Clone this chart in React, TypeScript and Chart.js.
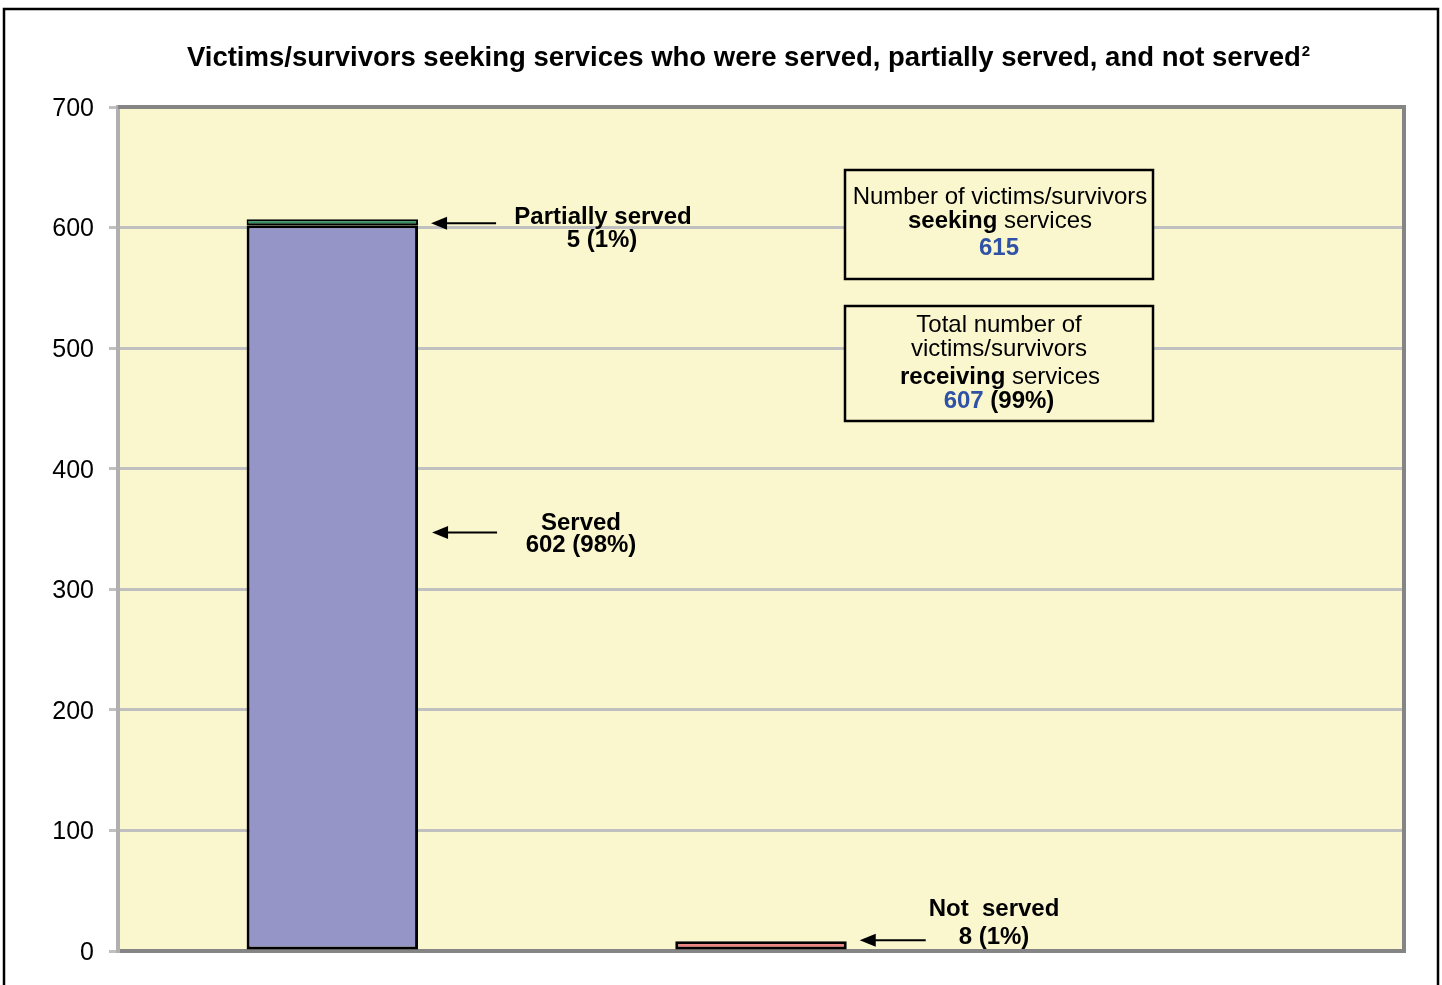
import React, { useEffect, useRef } from "react";
import { Chart, registerables } from "chart.js";

Chart.register(...registerables);

const categories = ["Served / Partially served", "Not served", ""];
const servedValues = [602, null, null];
const partialValues = [5, null, null];
const notServedValues = [null, 8, null];
const yTickStep = 100;
const yMax = 700;
const titleText = "Victims/survivors seeking services who were served, partially served, and not served";
const titleNote = "2";
const seekingTotal = 615;
const receivingTotal = 607;
const receivingPct = "(99%)";
const servedLabel = ["Served", "602 (98%)"];
const partialLabel = ["Partially served", "5 (1%)"];
const notServedLabel = ["Not  served", "8 (1%)"];

const FONT = 'Arial, "Liberation Sans", sans-serif';
const BG = "#FAF7CE";

type Seg = { t: string; bold?: boolean; color?: string };

function drawRich(ctx: CanvasRenderingContext2D, segs: Seg[], cx: number, cy: number, size: number) {
  let total = 0;
  const widths = segs.map((s) => {
    ctx.font = `${s.bold ? "bold " : ""}${size}px ${FONT}`;
    const w = ctx.measureText(s.t).width;
    total += w;
    return w;
  });
  let x = cx - total / 2;
  ctx.textBaseline = "middle";
  ctx.textAlign = "left";
  segs.forEach((s, i) => {
    ctx.font = `${s.bold ? "bold " : ""}${size}px ${FONT}`;
    ctx.fillStyle = s.color || "#000";
    ctx.fillText(s.t, x, cy);
    x += widths[i];
  });
}

function drawArrow(ctx: CanvasRenderingContext2D, x1: number, x2: number, y: number) {
  ctx.save();
  ctx.strokeStyle = "#000";
  ctx.fillStyle = "#000";
  ctx.lineWidth = 2;
  ctx.beginPath();
  ctx.moveTo(x1, y);
  ctx.lineTo(x2 + 10, y);
  ctx.stroke();
  ctx.beginPath();
  ctx.moveTo(x2, y);
  ctx.lineTo(x2 + 16, y - 6.5);
  ctx.lineTo(x2 + 16, y + 6.5);
  ctx.closePath();
  ctx.fill();
  ctx.restore();
}

const decorPlugin = {
  id: "decor",
  beforeDraw(chart: any) {
    const { ctx, chartArea: a } = chart;
    ctx.save();
    ctx.fillStyle = "#fff";
    ctx.fillRect(0, 0, chart.width, chart.height);
    // outer frame
    ctx.strokeStyle = "#000";
    ctx.lineWidth = 2.5;
    ctx.strokeRect(4, 9, 1434, 1000);
    // title
    ctx.font = `bold 27.5px ${FONT}`;
    ctx.fillStyle = "#000";
    ctx.textBaseline = "middle";
    ctx.textAlign = "left";
    const tw = ctx.measureText(titleText).width;
    ctx.font = `bold 15px ${FONT}`;
    const nw = ctx.measureText(titleNote).width;
    const tx = 748 - (tw + nw) / 2;
    ctx.font = `bold 27.5px ${FONT}`;
    ctx.fillText(titleText, tx, 58);
    ctx.font = `bold 15px ${FONT}`;
    ctx.fillText(titleNote, tx + tw + 1, 52);
    // plot background
    ctx.fillStyle = BG;
    ctx.fillRect(a.left, a.top, a.right - a.left, a.bottom - a.top);
    ctx.restore();
  },
  beforeDatasetsDraw(chart: any) {
    const { ctx, chartArea: a } = chart;
    ctx.save();
    ctx.strokeStyle = "#858585";
    ctx.lineWidth = 4;
    ctx.beginPath();
    ctx.moveTo(a.left, a.top);
    ctx.lineTo(a.right, a.top);
    ctx.lineTo(a.right, a.bottom);
    ctx.lineTo(a.left + 2, a.bottom);
    ctx.stroke();
    ctx.restore();
  },
  afterDatasetsDraw(chart: any) {
    const { ctx } = chart;
    const y = chart.scales.y;
    const meta0 = chart.getDatasetMeta(0).data[0];
    const meta2 = chart.getDatasetMeta(2).data[1];
    const r0 = meta0.x + meta0.width / 2;
    const r2 = meta2.x + meta2.width / 2;
    ctx.save();
    const yPartial = y.getPixelForValue(servedValues[0]! + partialValues[0]! / 2 - 1);
    drawArrow(ctx, r0 + 78, r0 + 13, yPartial);
    const yServed = y.getPixelForValue(347);
    drawArrow(ctx, r0 + 79, r0 + 14, yServed);
    const yNot = y.getPixelForValue(notServedValues[1]! + 1);
    drawArrow(ctx, r2 + 79, r2 + 13, yNot);

    const lsz = 24;
    drawRich(ctx, [{ t: partialLabel[0], bold: true }], 603, 217, lsz);
    drawRich(ctx, [{ t: partialLabel[1], bold: true }], 602, 240, lsz);
    drawRich(ctx, [{ t: servedLabel[0], bold: true }], 581, 523, lsz);
    drawRich(ctx, [{ t: servedLabel[1], bold: true }], 581, 545, lsz);
    drawRich(ctx, [{ t: notServedLabel[0], bold: true }], 994, 909, lsz);
    drawRich(ctx, [{ t: notServedLabel[1], bold: true }], 994, 937, lsz);

    ctx.lineWidth = 2.5;
    ctx.strokeStyle = "#000";
    ctx.fillStyle = BG;
    ctx.fillRect(845, 170, 308, 109);
    ctx.strokeRect(845, 170, 308, 109);
    ctx.fillRect(845, 306, 308, 115);
    ctx.strokeRect(845, 306, 308, 115);
    const bsz = 24;
    const blue = "#2F52A6";
    drawRich(ctx, [{ t: "Number of victims/survivors" }], 1000, 197, bsz);
    drawRich(ctx, [{ t: "seeking", bold: true }, { t: " services" }], 1000, 221, bsz);
    drawRich(ctx, [{ t: String(seekingTotal), bold: true, color: blue }], 999, 248, bsz);
    drawRich(ctx, [{ t: "Total number of" }], 999, 325, bsz);
    drawRich(ctx, [{ t: "victims/survivors" }], 999, 349, bsz);
    drawRich(ctx, [{ t: "receiving", bold: true }, { t: " services" }], 1000, 377, bsz);
    drawRich(
      ctx,
      [
        { t: String(receivingTotal), bold: true, color: blue },
        { t: " " + receivingPct, bold: true },
      ],
      999,
      401,
      bsz
    );
    ctx.restore();
  },
};

export default function App() {
  const ref = useRef<HTMLCanvasElement | null>(null);
  useEffect(() => {
    document.body.style.margin = "0";
    const canvas = ref.current!;
    const chart = new Chart(canvas, {
      type: "bar",
      data: {
        labels: categories,
        datasets: [
          {
            label: "Served",
            data: servedValues as any,
            backgroundColor: "#9595C8",
            borderColor: "#000",
            borderWidth: 3,
            borderSkipped: false,
          },
          {
            label: "Partially served",
            data: partialValues as any,
            backgroundColor: "#2F8F62",
            borderColor: "#000",
            borderWidth: 2,
            borderSkipped: false,
          },
          {
            label: "Not served",
            data: notServedValues as any,
            backgroundColor: "#F27E7E",
            borderColor: "#000",
            borderWidth: 3,
            borderSkipped: false,
          },
        ],
      },
      options: {
        responsive: false,
        animation: false,
        devicePixelRatio: 1,
        layout: { padding: { top: 107, bottom: 34, left: 0, right: 38 } },
        datasets: { bar: { categoryPercentage: 1, barPercentage: 0.4 } },
        plugins: {
          legend: { display: false },
          title: { display: false },
          tooltip: { enabled: false },
        },
        scales: {
          x: { display: false, stacked: true, offset: true },
          y: {
            stacked: true,
            min: 0,
            max: yMax,
            ticks: {
              stepSize: yTickStep,
              color: "#000",
              font: { family: FONT, size: 25 },
              padding: 15,
              labelOffset: 2,
            },
            grid: { color: "#C0C0C0", lineWidth: 3, tickLength: 9, drawTicks: true },
            border: { display: true, color: "#B0B0B0", width: 4 },
            afterFit(s: any) {
              s.width = 118;
            },
          },
        },
      },
      plugins: [decorPlugin],
    });
    return () => chart.destroy();
  }, []);
  return (
    <div style={{ position: "fixed", left: 0, top: 0, width: 1442, height: 985 }}>
      <canvas ref={ref} width={1442} height={985} />
    </div>
  );
}
